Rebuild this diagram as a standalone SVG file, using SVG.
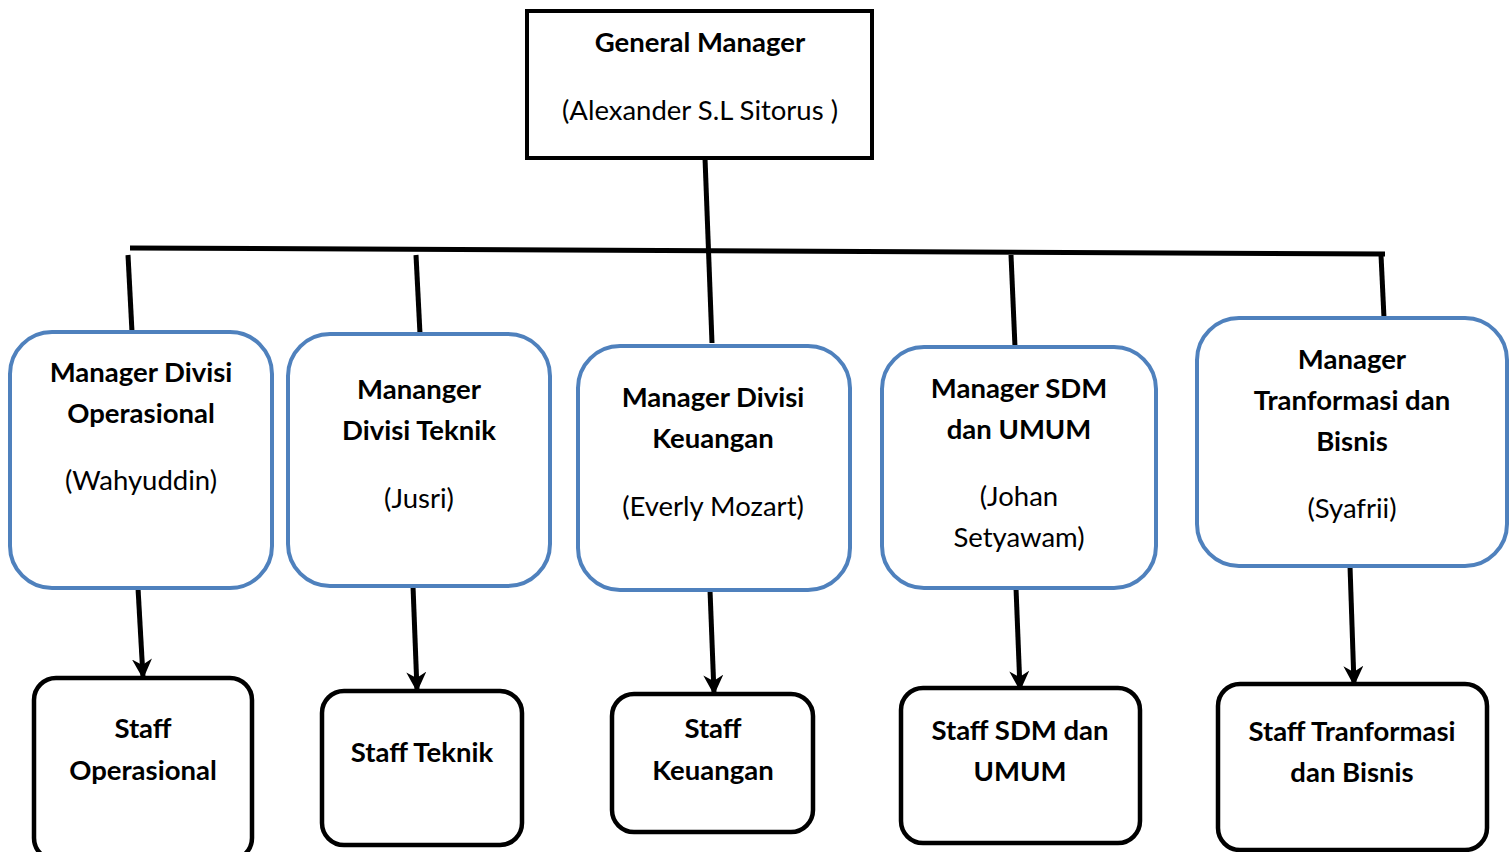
<svg xmlns="http://www.w3.org/2000/svg" width="1510" height="852" viewBox="0 0 1510 852">
<defs>
<style>
.t{font-family:Lato,"Open Sans","Liberation Sans",sans-serif;font-size:27.5px;fill:#000;text-anchor:middle}
.b{font-weight:bold}
.blue{fill:#fff;stroke:#4F81BD;stroke-width:4}
.blk{fill:#fff;stroke:#000;stroke-width:4.5}
.ln{stroke:#000;stroke-width:5;fill:none}
</style>
<marker id="ah" viewBox="0 0 10 10" refX="9" refY="5" markerWidth="4" markerHeight="4" orient="auto" markerUnits="strokeWidth">
<path d="M0,0 L10,5 L0,10 L3,5 Z" fill="#000"/>
</marker>
</defs>
<rect width="1510" height="852" fill="#fff"/>
<g id="connectors">
<line class="ln" x1="705" y1="158" x2="712" y2="343"/>
<line class="ln" x1="130" y1="248" x2="1385" y2="254"/>
<line class="ln" x1="128" y1="255" x2="132" y2="332"/>
<line class="ln" x1="416" y1="255" x2="420" y2="334"/>
<line class="ln" x1="1011" y1="255" x2="1015" y2="347"/>
<line class="ln" x1="1381" y1="255" x2="1384" y2="318"/>
<line class="ln" x1="138" y1="588" x2="143" y2="677" marker-end="url(#ah)"/>
<line class="ln" x1="413" y1="586" x2="417" y2="690" marker-end="url(#ah)"/>
<line class="ln" x1="710" y1="590" x2="714" y2="693" marker-end="url(#ah)"/>
<line class="ln" x1="1016" y1="588" x2="1020" y2="689" marker-end="url(#ah)"/>
<line class="ln" x1="1350" y1="566" x2="1354" y2="684" marker-end="url(#ah)"/>
</g>
<g id="gm">
<rect x="527" y="11" width="345" height="147" fill="#fff" stroke="#000" stroke-width="4"/>
<text class="t b" x="700" y="52">General Manager</text>
<text class="t" x="700" y="120">(Alexander S.L Sitorus )</text>
</g>
<g id="m1">
<rect class="blue" x="10" y="332" width="262" height="256" rx="42"/>
<text class="t b" x="141" y="382">Manager Divisi</text>
<text class="t b" x="141" y="423">Operasional</text>
<text class="t" x="141" y="490">(Wahyuddin)</text>
</g>
<g id="m2">
<rect class="blue" x="288" y="334" width="262" height="252" rx="42"/>
<text class="t b" x="419" y="399">Mananger</text>
<text class="t b" x="419" y="440">Divisi Teknik</text>
<text class="t" x="419" y="508">(Jusri)</text>
</g>
<g id="m3">
<rect class="blue" x="578" y="346" width="272" height="244" rx="42"/>
<text class="t b" x="713" y="407">Manager Divisi</text>
<text class="t b" x="713" y="448">Keuangan</text>
<text class="t" x="713" y="516">(Everly Mozart)</text>
</g>
<g id="m4">
<rect class="blue" x="882" y="347" width="274" height="241" rx="42"/>
<text class="t b" x="1019" y="398">Manager SDM</text>
<text class="t b" x="1019" y="439">dan UMUM</text>
<text class="t" x="1019" y="506">(Johan</text>
<text class="t" x="1019" y="547">Setyawam)</text>
</g>
<g id="m5">
<rect class="blue" x="1197" y="318" width="310" height="248" rx="42"/>
<text class="t b" x="1352" y="369">Manager</text>
<text class="t b" x="1352" y="410">Tranformasi dan</text>
<text class="t b" x="1352" y="451">Bisnis</text>
<text class="t" x="1352" y="518">(Syafrii)</text>
</g>
<g id="s1">
<rect class="blk" x="34" y="678" width="218" height="182" rx="22"/>
<text class="t b" x="143" y="738">Staff</text>
<text class="t b" x="143" y="780">Operasional</text>
</g>
<g id="s2">
<rect class="blk" x="322" y="691" width="200" height="154" rx="22"/>
<text class="t b" x="422" y="762">Staff Teknik</text>
</g>
<g id="s3">
<rect class="blk" x="612" y="694" width="201" height="138" rx="22"/>
<text class="t b" x="713" y="738">Staff</text>
<text class="t b" x="713" y="780">Keuangan</text>
</g>
<g id="s4">
<rect class="blk" x="901" y="688" width="239" height="155" rx="22"/>
<text class="t b" x="1020" y="740">Staff SDM dan</text>
<text class="t b" x="1020" y="781">UMUM</text>
</g>
<g id="s5">
<rect class="blk" x="1218" y="684" width="269" height="166" rx="22"/>
<text class="t b" x="1352" y="741">Staff Tranformasi</text>
<text class="t b" x="1352" y="782">dan Bisnis</text>
</g>
</svg>
